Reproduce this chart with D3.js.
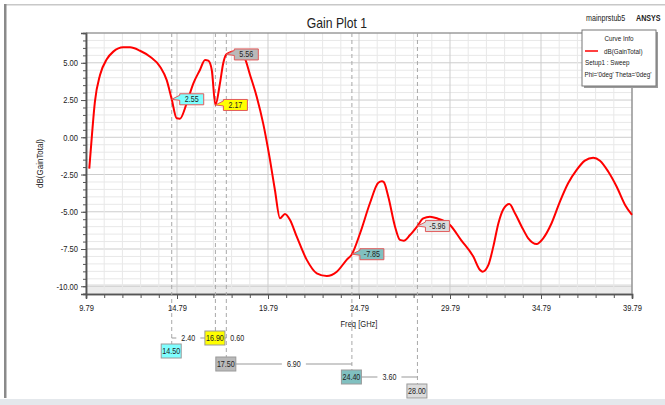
<!DOCTYPE html>
<html>
<head>
<meta charset="utf-8">
<script src="https://cdn.jsdelivr.net/npm/d3@7/dist/d3.min.js"></script>
<style>
  html, body { margin: 0; padding: 0; background: #fff; }
  svg { display: block; }
  text { font-family: 'Liberation Sans', Arial, sans-serif; fill: #222; }
</style>
</head>
<body>
<svg id="chart" width="665" height="405"></svg>
<script>
// Gain sweep, dB(GainTotal) versus frequency in GHz
const freqGHz = [9.97, 10.12, 10.28, 10.56, 10.93, 11.29, 11.84, 12.21, 12.76, 13.31, 13.86, 14.22,
  14.50, 14.77, 14.95, 15.32, 15.69, 16.05, 16.33, 16.51, 16.70, 16.90, 17.15, 17.33, 17.50, 17.70,
  17.88, 18.20, 18.50, 18.80, 19.17, 19.53, 19.90, 20.17, 20.45, 20.72, 21.00, 21.37, 21.92, 22.47,
  23.02, 23.57, 24.11, 24.40, 24.85, 25.39, 25.85, 26.05, 26.15, 26.40, 26.77, 27.04, 27.25, 27.59,
  28.00, 28.32, 28.69, 29.10, 29.79, 30.40, 31.07, 31.44, 31.59, 31.90, 32.17, 32.45, 32.72, 33.05,
  33.36, 33.73, 34.09, 34.55, 34.91, 35.37, 35.83, 36.28, 36.75, 37.20, 37.66, 38.03, 38.49, 38.95,
  39.41, 39.79];
const gainDb = [-2.10, 0.20, 2.39, 4.18, 5.23, 5.75, 6.04, 6.04, 5.81, 5.41, 4.74, 3.85,
  2.55, 1.28, 1.25, 2.28, 3.62, 4.52, 5.19, 5.14, 4.52, 2.17, 3.62, 4.97, 5.56, 5.70,
  5.75, 5.70, 5.35, 4.20, 2.72, 0.90, -1.52, -3.54, -5.44, -5.15, -5.55, -6.67, -8.23, -9.13,
  -9.31, -9.02, -8.23, -7.85, -6.44, -4.43, -3.05, -2.95, -3.00, -3.99, -6.00, -6.89, -6.94, -6.56,
  -5.96, -5.44, -5.33, -5.45, -5.89, -6.90, -8.01, -8.91, -9.02, -8.57, -7.34, -5.77, -4.83, -4.48,
  -5.10, -6.00, -6.78, -7.16, -6.78, -5.77, -4.32, -3.09, -2.19, -1.57, -1.37, -1.57, -2.31, -3.32,
  -4.54, -5.21];

// Markers placed on the curve
const markerFreq = [14.50, 16.90, 17.50, 24.40, 28.00];
const markerDb = [2.55, 2.17, 5.56, -7.85, -5.96];

// Axis ticks
const xTickValues = [9.79, 14.79, 19.79, 24.79, 29.79, 34.79, 39.79];
const yTickValues = [5.00, 2.50, 0.00, -2.50, -5.00, -7.50, -10.00];

const legendLines = ["dB(GainTotal)", "Setup1 : Sweep", "Phi='0deg' Theta='0deg'"];

const svg = d3.select("#chart");
const L = 86, R = 632, T = 33, B = 294;
const x = d3.scaleLinear().domain([9.79, 39.79]).range([L, R]);
const y = d3.scaleLinear().domain([-10.52, 7.0]).range([B, T]);

// outer frame
svg.append("rect").attr("x", 4).attr("y", 4).attr("width", 661).attr("height", 1.5).attr("fill", "#c8c8c8");
svg.append("rect").attr("x", 4).attr("y", 4).attr("width", 2.5).attr("height", 394).attr("fill", "#8a8a8a");
svg.append("rect").attr("x", 0).attr("y", 399).attr("width", 665).attr("height", 6).attr("fill", "#e4e8ec");

// plot background and grid
svg.append("rect").attr("x", L).attr("y", T).attr("width", R - L).attr("height", B - T).attr("fill", "#fff");
svg.append("rect").attr("x", L).attr("y", y(-9.85)).attr("width", R - L).attr("height", B - y(-9.85)).attr("fill", "#ececec");

const yMinor = d3.range(0, 36).map(i => -10.5 + i * 0.5);
const xMinor = d3.range(0, 31).map(i => 9.79 + i);
const grid = svg.append("g");
grid.selectAll("line.ym").data(yMinor).join("line")
  .attr("x1", L).attr("x2", R).attr("y1", d => y(d)).attr("y2", d => y(d))
  .attr("stroke", d => Math.abs(d / 2.5 - Math.round(d / 2.5)) < 1e-6 ? "#cdcdcd" : "#e8e8e8").attr("stroke-width", 1);
grid.selectAll("line.xm").data(xMinor).join("line")
  .attr("y1", T).attr("y2", B).attr("x1", d => x(d)).attr("x2", d => x(d))
  .attr("stroke", (d, i) => i % 5 === 0 ? "#cdcdcd" : "#e8e8e8").attr("stroke-width", 1);

// axes
const fmt = d => d.toFixed(2);
const yAxisMinor = svg.append("g").attr("transform", `translate(${L},0)`)
  .call(d3.axisLeft(y).tickValues(yMinor).tickSize(3).tickFormat(""));
const yAxis = svg.append("g").attr("transform", `translate(${L},0)`)
  .call(d3.axisLeft(y).tickValues(yTickValues).tickSize(5).tickPadding(3).tickFormat(fmt));
const xAxisMinor = svg.append("g").attr("transform", `translate(0,${B})`)
  .call(d3.axisBottom(x).tickValues(xMinor).tickSize(4).tickFormat(""));
const xAxis = svg.append("g").attr("transform", `translate(0,${B})`)
  .call(d3.axisBottom(x).tickValues(xTickValues).tickSize(5).tickPadding(6).tickFormat(fmt));
[yAxisMinor, yAxis, xAxisMinor, xAxis].forEach(g => {
  g.select(".domain").attr("stroke", "#555").attr("stroke-width", 1.5);
  g.selectAll(".tick line").attr("stroke", "#555");
  g.selectAll(".tick text").attr("font-size", 9).attr("fill", "#333")
    .attr("font-family", "'Liberation Sans',Arial,sans-serif");
});
// top and right frame of the plot
svg.append("line").attr("x1", L).attr("x2", R).attr("y1", T).attr("y2", T).attr("stroke", "#777").attr("stroke-width", 1.2);
svg.append("line").attr("x1", R).attr("x2", R).attr("y1", T).attr("y2", B).attr("stroke", "#888").attr("stroke-width", 1.2);

// axis titles
svg.append("text").attr("x", (L + R) / 2).attr("y", 327).attr("text-anchor", "middle")
  .attr("font-size", 9).text("Freq [GHz]");
svg.append("text").attr("transform", `translate(43,${(T + B) / 2}) rotate(-90)`).attr("text-anchor", "middle")
  .attr("font-size", 9.5).text("dB(GainTotal)");

// chart title and tags
svg.append("text").attr("x", 337).attr("y", 28).attr("text-anchor", "middle").attr("font-size", 14.5).text("Gain Plot 1");
svg.append("text").attr("x", 586).attr("y", 21).attr("font-size", 8.5).text("mainprstub5");
svg.append("text").attr("x", 636).attr("y", 21).attr("font-size", 8.5).attr("font-weight", "bold").text("ANSYS");

// marker guide lines (dashed, running down to the marker table)
const boxTop = [344, 331, 357, 370, 384];
const boxW = 20, boxH = 14;
svg.append("g").selectAll("line").data(markerFreq).join("line")
  .attr("x1", d => x(d)).attr("x2", d => x(d)).attr("y1", T).attr("y2", (d, i) => boxTop[i])
  .attr("stroke", "#a8a8a8").attr("stroke-dasharray", "4,3").attr("stroke-width", 1);

// gain curve
const pts = freqGHz.map((f, i) => [f, gainDb[i]]);
svg.append("path").datum(pts)
  .attr("fill", "none").attr("stroke", "#ff0000").attr("stroke-width", 2).attr("stroke-linejoin", "round")
  .attr("d", d3.line().x(d => x(d[0])).y(d => y(d[1])).curve(d3.curveMonotoneX));

// value callouts on the curve
const markerFill = ["#80ffff", "#ffff00", "#b9b9b9", "#80c0c0", "#dcdcdc"];
const cw = 24, ch = 11, off = 8;
const callouts = svg.append("g");
markerFreq.forEach((f, i) => {
  const px = x(f), py = y(markerDb[i]);
  const bx = px + off, top = py - ch / 2, bot = py + ch / 2;
  callouts.append("path")
    .attr("d", `M${px},${py} L${bx},${py - 4} L${bx},${top} L${bx + cw},${top} L${bx + cw},${bot} L${bx},${bot} L${bx},${py + 1} Z`)
    .attr("fill", markerFill[i]).attr("stroke", "#e25a5a").attr("stroke-width", 1);
  callouts.append("text").attr("x", bx + cw / 2).attr("y", py + 3).attr("text-anchor", "middle")
    .attr("font-size", 8.5).attr("fill", "#333").text(fmt(markerDb[i]));
});

// marker frequency table with deltas
const table = svg.append("g");
markerFreq.forEach((f, i) => {
  const cx = x(f) - 0.5;
  table.append("rect").attr("x", cx - boxW / 2).attr("y", boxTop[i]).attr("width", boxW).attr("height", boxH)
    .attr("fill", markerFill[i]).attr("stroke", "#9a9a9a").attr("stroke-width", 1);
  table.append("text").attr("x", cx).attr("y", boxTop[i] + 10).attr("text-anchor", "middle")
    .attr("font-size", 8.5).attr("fill", "#333").text(fmt(f));
});
function deltaLine(x1, x2, yy, label, labelX) {
  table.append("line").attr("x1", x1).attr("x2", x2).attr("y1", yy).attr("y2", yy).attr("stroke", "#999");
  table.append("rect").attr("x", labelX - 12).attr("y", yy - 2).attr("width", 24).attr("height", 4).attr("fill", "#fff");
  table.append("text").attr("x", labelX).attr("y", yy + 3).attr("text-anchor", "middle")
    .attr("font-size", 8.5).attr("fill", "#333").text(label);
}
const d01 = fmt(markerFreq[1] - markerFreq[0]);
const d12 = fmt(markerFreq[2] - markerFreq[1]);
const d23 = fmt(markerFreq[3] - markerFreq[2]);
const d34 = fmt(markerFreq[4] - markerFreq[3]);
{
  const y1 = boxTop[1] + boxH / 2;
  const a = x(markerFreq[0]), b = x(markerFreq[1]) - 0.5 - boxW / 2;
  deltaLine(a, b, y1, d01, (a + b) / 2);
  const c = x(markerFreq[1]) - 0.5 + boxW / 2;
  table.append("line").attr("x1", c).attr("x2", x(markerFreq[2])).attr("y1", y1).attr("y2", y1).attr("stroke", "#999");
  table.append("text").attr("x", x(markerFreq[2]) + 4).attr("y", y1 + 3).attr("font-size", 8.5).attr("fill", "#333").text(d12);
  const y2 = boxTop[2] + boxH / 2;
  const e = x(markerFreq[2]) - 0.5 + boxW / 2, g = x(markerFreq[3]);
  deltaLine(e, g, y2, d23, (e + g) / 2);
  const y3 = boxTop[3] + boxH / 2;
  const h = x(markerFreq[3]) - 0.5 + boxW / 2, k = x(markerFreq[4]);
  deltaLine(h, k, y3, d34, (h + k) / 2);
}

// legend
const lg = svg.append("g");
lg.append("rect").attr("x", 584).attr("y", 32).attr("width", 74).attr("height", 56).attr("fill", "#9a9a9a");
lg.append("rect").attr("x", 582).attr("y", 30).attr("width", 74).attr("height", 56).attr("fill", "#fff").attr("stroke", "#777").attr("stroke-width", 1);
lg.append("text").attr("x", 619).attr("y", 41).attr("text-anchor", "middle").attr("font-size", 7.5).text("Curve Info");
lg.append("line").attr("x1", 585).attr("x2", 598).attr("y1", 51).attr("y2", 51).attr("stroke", "#ff0000").attr("stroke-width", 1.5);
lg.append("text").attr("x", 604).attr("y", 54).attr("font-size", 7.5).text(legendLines[0]);
lg.append("text").attr("x", 585).attr("y", 65).attr("font-size", 7.5).text(legendLines[1]);
lg.append("text").attr("x", 584.5).attr("y", 77).attr("font-size", 7.5).text(legendLines[2]);

// narrow lettering: squeeze every label horizontally around its anchor
svg.selectAll("text").each(function () {
  const len = this.getComputedTextLength();
  if (len > 0) {
    d3.select(this).attr("textLength", len * 0.84).attr("lengthAdjust", "spacingAndGlyphs");
  }
});
</script>
</body>
</html>
